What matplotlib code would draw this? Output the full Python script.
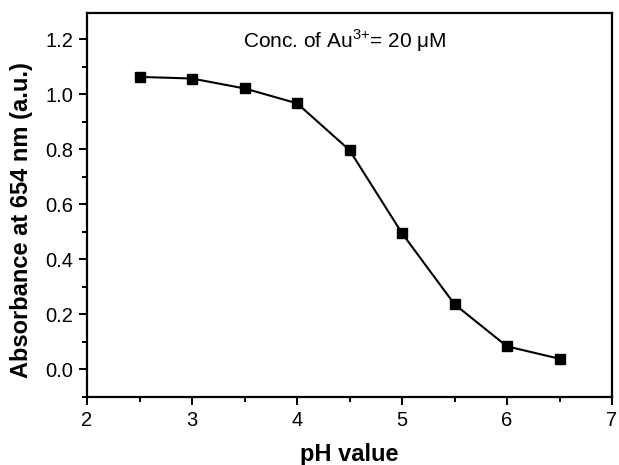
import matplotlib
matplotlib.use('Agg')
import matplotlib.pyplot as plt
from matplotlib.ticker import MultipleLocator

# Data
ph_values = [2.5, 3.0, 3.5, 4.0, 4.5, 5.0, 5.5, 6.0, 6.5]
absorbance = [1.063, 1.057, 1.021, 0.967, 0.797, 0.495, 0.237, 0.084, 0.039]
y_ticks = [0.0, 0.2, 0.4, 0.6, 0.8, 1.0, 1.2]

plt.rcParams['font.family'] = ['Liberation Sans', 'DejaVu Sans']
plt.rcParams['mathtext.fontset'] = 'custom'
plt.rcParams['mathtext.rm'] = 'Liberation Sans'

fig = plt.figure(figsize=(6.19, 4.65), dpi=100)
ax = fig.add_axes([0.1406, 0.1462, 0.8481, 0.8258])

ax.plot(ph_values, absorbance, color='black', linewidth=1.5,
        marker='s', markersize=7.5, markerfacecolor='black', markeredgecolor='black')

ax.set_xlim(2, 7)
ax.set_ylim(-0.1, 1.295)
ax.xaxis.set_major_locator(MultipleLocator(1))
ax.xaxis.set_minor_locator(MultipleLocator(0.5))
ax.yaxis.set_minor_locator(MultipleLocator(0.1))
ax.set_yticks(y_ticks)
ax.set_yticklabels([f"{v:.1f}" for v in y_ticks])

for spine in ax.spines.values():
    spine.set_linewidth(1.6)

ax.tick_params(which='both', direction='out', top=False, right=False, width=1.4, labelsize=14.5)
ax.tick_params(which='major', length=6, pad=4)
ax.tick_params(which='minor', length=3.5)

ax.set_xlabel('pH value', fontsize=17, fontweight='bold')
ax.set_ylabel('Absorbance at 654 nm (a.u.)', fontsize=17, fontweight='bold')
ax.xaxis.set_label_coords(0.5, -0.12)
ax.yaxis.set_label_coords(-0.103, 0.46)

ax.text(3.49, 1.196, r'Conc. of Au$^{3{+}}$= 20 μM', fontsize=15, ha='left', va='center')

fig.savefig('out.png', dpi=100)
